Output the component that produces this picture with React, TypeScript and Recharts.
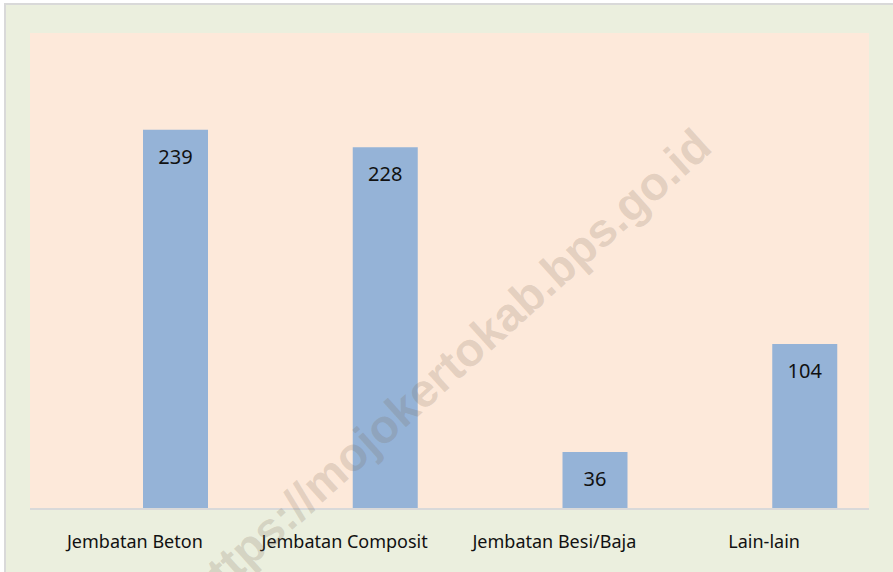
import React from 'react';
import { BarChart, Bar, XAxis, YAxis, CartesianGrid, LabelList } from 'recharts';

const categories = ['Jembatan Beton', 'Jembatan Composit', 'Jembatan Besi/Baja', 'Lain-lain'];
const jumlah = [239, 228, 36, 104];

const chartData = categories.map((name, i) => ({ name, jumlah: jumlah[i] }));

const FONT = '"Noto Sans", sans-serif';

const App: React.FC = () => {
  return (
    <div
      style={{
        position: 'absolute',
        left: 0,
        top: 0,
        width: 893,
        height: 572,
        overflow: 'hidden',
        background: '#ffffff'
      }}
    >
      <div
        style={{
          position: 'absolute',
          left: 4,
          top: 3,
          width: 900,
          height: 600,
          background: '#EBEFDE',
          border: '2px solid #D9D9D9'
        }}
      />
      <div style={{ position: 'absolute', left: 0, top: 0 }}>
        <BarChart
          width={893}
          height={572}
          data={chartData}
          margin={{ top: 33, right: 24, left: 30, bottom: 33 }}
        >
          <CartesianGrid horizontal={false} vertical={false} fill="#FDE9DA" stroke="none" />
          <XAxis
            dataKey="name"
            height={30}
            axisLine={{ stroke: '#D9D9D9', strokeWidth: 2 }}
            tickLine={false}
            tick={{ fill: '#111', fontSize: 18, fontFamily: FONT }}
            dy={18}
          />
          <YAxis hide domain={[0, 300]} />
          <Bar dataKey="kosong" barSize={77} isAnimationActive={false} />
          <Bar dataKey="jumlah" barSize={65} fill="#95B3D7" isAnimationActive={false}>
            <LabelList
              dataKey="jumlah"
              position="insideTop"
              offset={20}
              fill="#111"
              fontSize={20}
              fontFamily={FONT}
            />
          </Bar>
        </BarChart>
      </div>
      <svg
        width={893}
        height={572}
        style={{ position: 'absolute', left: 0, top: 0, pointerEvents: 'none' }}
      >
        <text
          x={714}
          y={150}
          textAnchor="end"
          transform="rotate(-42 714 150)"
          fontFamily='"Liberation Sans", Arial, sans-serif'
          fontWeight="bold"
          fontSize={47}
          fill="rgba(120, 100, 80, 0.2)"
        >
          https://mojokertokab.bps.go.id
        </text>
      </svg>
    </div>
  );
};

export default App;
